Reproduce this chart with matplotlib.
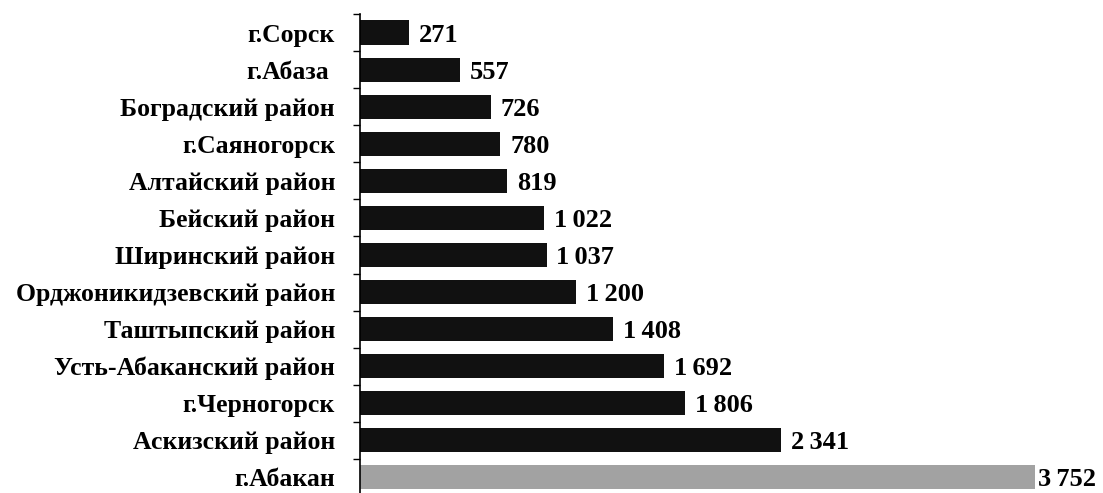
import matplotlib.pyplot as plt
import numpy as np

# районы и значения (сверху вниз)
districts = ['г.Сорск', 'г.Абаза ', 'Боградский район', 'г.Саяногорск', 'Алтайский район',
             'Бейский район', 'Ширинский район', 'Орджоникидзевский район', 'Таштыпский район',
             'Усть-Абаканский район', 'г.Черногорск', 'Аскизский район', 'г.Абакан']
values = [271, 557, 726, 780, 819, 1022, 1037, 1200, 1408, 1692, 1806, 2341, 3752]

plt.rcParams['font.family'] = ['Liberation Serif', 'DejaVu Serif']

fig = plt.figure(figsize=(11.03, 4.93), dpi=100)
ax = fig.add_axes([360 / 1103, -0.006, (1035 - 360) / 1103, 0.9716 + 0.006])

y = np.arange(len(values))
colors = ['#111111'] * (len(values) - 1) + ['#a2a2a2']
ax.barh(y, values, height=0.65, color=colors)

ax.set_ylim(len(values) - 0.5, -0.5)
ax.set_xlim(0, max(values))

ax.set_yticks(y)
ax.set_yticklabels(districts, fontsize=18.5, fontweight='bold')
ax.tick_params(axis='y', which='major', length=0, pad=18)
ax.set_yticks(np.arange(len(values) + 1) - 0.5, minor=True)
ax.tick_params(axis='y', which='minor', length=5, width=1, direction='out')
ax.set_xticks([])

for s in ['top', 'right', 'bottom']:
    ax.spines[s].set_visible(False)
ax.spines['left'].set_linewidth(1.2)

for yi, v in zip(y, values):
    lbl = f'{v:,}'.replace(',', '\u2009')
    off = 2 if v == max(values) else 7
    ax.annotate(lbl, (v, yi), xytext=(off, 0), textcoords='offset points',
                va='center_baseline', ha='left', fontsize=19, fontweight='bold',
                annotation_clip=False)

fig.savefig('out.png', dpi=100)
